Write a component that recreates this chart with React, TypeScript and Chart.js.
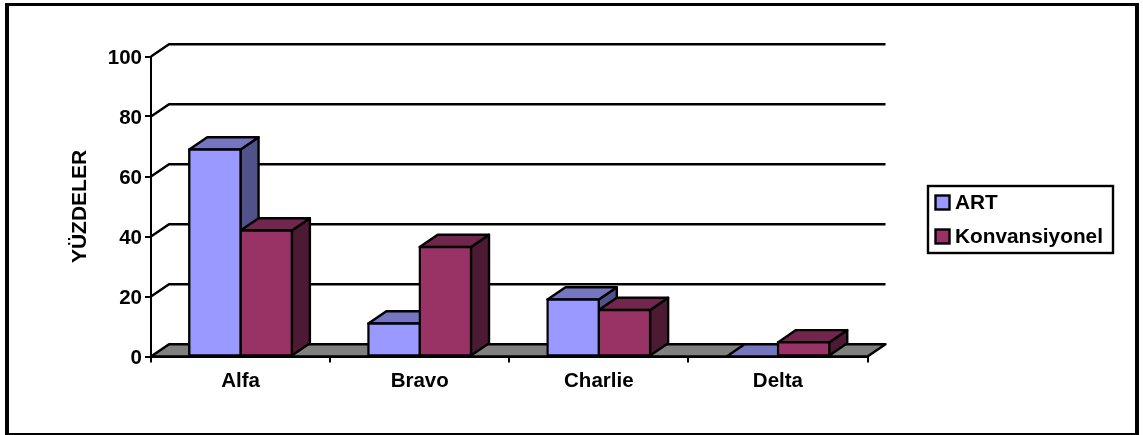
import React, { useEffect, useRef } from "react";
import { Chart, registerables } from "chart.js";

Chart.register(...registerables);

const categories = ["Alfa", "Bravo", "Charlie", "Delta"];
const artValues = [69, 11, 19, 0];
const konvansiyonelValues = [42, 36.5, 15.5, 4.7];
const yTicks = [0, 20, 40, 60, 80, 100];

const FONT = "'Liberation Sans', Arial, sans-serif";
const DEPTH_X = 18;
const DEPTH_Y = 12.3;
const STROKE = 2.4;

const shades: Record<string, { top: string; side: string }> = {
  "#9999FF": { top: "#7676C0", side: "#52528A" },
  "#993366": { top: "#73264D", side: "#4D1A33" },
};

function poly(ctx: CanvasRenderingContext2D, pts: number[][], fill: string | null) {
  ctx.beginPath();
  pts.forEach(([x, y], i) => (i ? ctx.lineTo(x, y) : ctx.moveTo(x, y)));
  ctx.closePath();
  if (fill) {
    ctx.fillStyle = fill;
    ctx.fill();
  }
  ctx.stroke();
}

// Back wall lines, side wall diagonals, the grey floor, then the top and side
// faces of every bar; the controller paints the front faces over all of this.
const wallPlugin = {
  id: "walls",
  beforeDatasetsDraw(chart: any) {
    const { ctx, chartArea, scales } = chart;
    const { left, right } = chartArea;
    const base = scales.y.getPixelForValue(0);
    ctx.save();
    ctx.strokeStyle = "#000";
    ctx.lineWidth = STROKE;
    ctx.lineJoin = "round";
    poly(
      ctx,
      [
        [left, base],
        [left + DEPTH_X, base - DEPTH_Y],
        [right + DEPTH_X, base - DEPTH_Y],
        [right, base],
      ],
      "#808080"
    );
    yTicks
      .filter((t) => t > 0)
      .forEach((t) => {
        const y = scales.y.getPixelForValue(t);
        ctx.beginPath();
        ctx.moveTo(left, y);
        ctx.lineTo(left + DEPTH_X, y - DEPTH_Y);
        ctx.lineTo(right + DEPTH_X, y - DEPTH_Y);
        ctx.stroke();
      });
    chart.data.datasets.forEach((ds: any, index: number) => {
      const color = ds.backgroundColor as string;
      chart.getDatasetMeta(index).data.forEach((bar: any) => {
        const { x, y, base: barBase, width } = bar.getProps(["x", "y", "base", "width"], true);
        const l = x - width / 2;
        const r = x + width / 2;
        poly(
          ctx,
          [
            [r, y],
            [r + DEPTH_X, y - DEPTH_Y],
            [r + DEPTH_X, barBase - DEPTH_Y],
            [r, barBase],
          ],
          shades[color].side
        );
        poly(
          ctx,
          [
            [l, y],
            [l + DEPTH_X, y - DEPTH_Y],
            [r + DEPTH_X, y - DEPTH_Y],
            [r, y],
          ],
          shades[color].top
        );
      });
    });
    ctx.restore();
  },
};

// Outer frame and the boxed legend on the right.
const framePlugin = {
  id: "frame",
  afterDraw(chart: any) {
    const { ctx } = chart;
    ctx.save();
    ctx.fillStyle = "#000";
    ctx.fillRect(5, 3, 1134, 3);
    ctx.fillRect(5, 433, 1134, 2);
    ctx.fillRect(5, 3, 4, 432);
    ctx.fillRect(1135, 3, 4, 432);

    ctx.strokeStyle = "#000";
    ctx.lineWidth = STROKE;
    ctx.fillStyle = "#fff";
    ctx.fillRect(928, 186, 185, 67);
    ctx.strokeRect(928, 186, 185, 67);

    ctx.textBaseline = "middle";
    ctx.textAlign = "left";
    ctx.font = `bold 20.8px ${FONT}`;
    chart.data.datasets.forEach((ds: any, i: number) => {
      const top = 195.5 + i * 34;
      ctx.fillStyle = ds.backgroundColor;
      ctx.fillRect(935.5, top, 14, 14);
      ctx.strokeRect(935.5, top, 14, 14);
      ctx.fillStyle = "#000";
      ctx.fillText(ds.label, 955, top + 7.5);
    });
    ctx.restore();
  },
};

export default function App() {
  const ref = useRef<HTMLCanvasElement>(null);

  useEffect(() => {
    const tickFont = { family: FONT, size: 20.5, weight: "bold" as const };
    const chart = new Chart(ref.current!, {
      type: "bar",
      data: {
        labels: categories,
        datasets: [
          {
            label: "ART",
            data: artValues,
            backgroundColor: "#9999FF",
            borderColor: "#000",
            borderWidth: STROKE,
            borderSkipped: false,
            inflateAmount: STROKE / 2,
            clip: false,
          },
          {
            label: "Konvansiyonel",
            data: konvansiyonelValues,
            backgroundColor: "#993366",
            borderColor: "#000",
            borderWidth: STROKE,
            borderSkipped: false,
            inflateAmount: STROKE / 2,
            clip: false,
          },
        ] as any,
      },
      options: {
        responsive: false,
        animation: false,
        devicePixelRatio: 1,
        layout: { padding: { left: 0, right: 275.5, top: 56.5, bottom: 38.5 } },
        datasets: { bar: { categoryPercentage: 0.573, barPercentage: 1 } },
        plugins: { legend: { display: false }, tooltip: { enabled: false } },
        scales: {
          x: {
            offset: true,
            afterFit: (s: any) => {
              s.height = 40;
            },
            border: { display: true, color: "#000", width: 2 },
            grid: {
              drawOnChartArea: false,
              drawTicks: true,
              tickLength: 6,
              color: "#000",
              lineWidth: 2,
              offset: true,
            },
            ticks: { color: "#000", font: tickFont, padding: 7, maxRotation: 0 },
          },
          y: {
            min: 0,
            max: 100,
            afterFit: (s: any) => {
              s.width = 151;
            },
            afterBuildTicks: (s: any) => {
              s.ticks = yTicks.map((value) => ({ value }));
            },
            border: { display: true, color: "#000", width: 2 },
            grid: {
              drawOnChartArea: false,
              drawTicks: true,
              tickLength: 6,
              color: "#000",
              lineWidth: 2,
            },
            ticks: { color: "#000", font: tickFont, padding: 3, labelOffset: 1.5 },
            title: {
              display: true,
              text: "YÜZDELER",
              color: "#000",
              font: { family: FONT, size: 21, weight: "bold" },
              padding: { top: 68, bottom: 0 },
            },
          },
        },
      } as any,
      plugins: [wallPlugin, framePlugin],
    });
    return () => chart.destroy();
  }, []);

  return (
    <canvas
      ref={ref}
      width={1143}
      height={435}
      style={{ position: "fixed", left: 0, top: 0, width: 1143, height: 435, display: "block" }}
    />
  );
}
